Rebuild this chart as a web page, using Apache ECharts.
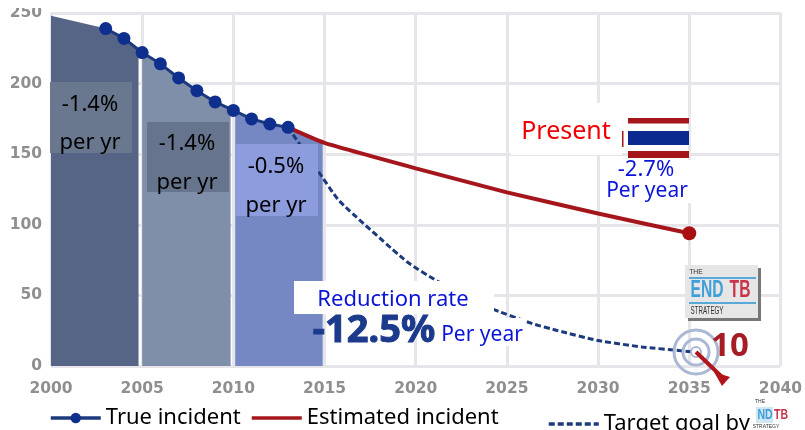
<!DOCTYPE html>
<html><head><meta charset="utf-8">
<style>html,body{margin:0;padding:0;background:#fff;overflow:hidden}#c{width:805px;height:430px}</style>
<script src="https://cdn.jsdelivr.net/npm/echarts@6/dist/echarts.min.js"></script>
</head><body><div id="c"></div>
<script>
const xTicks = {min:2000,max:2040,step:5};
const yTicks = {min:0,max:250,step:50};
const bandA = [[2000,248],[2003,239],[2004,232],[2004.8,224]];
const bandB = [[2005,222],[2006,214],[2007,204],[2008,195],[2009,187],[2009.85,182]];
const bandC = [[2010.1,180.5],[2011,175],[2012,171.4],[2013,169],[2014.9,158]];
const trueIncident = [[2003,239],[2004,232],[2005,222],[2006,214],[2007,204],[2008,195],[2009,187],[2010,181],[2011,175],[2012,171.4],[2013,169]];
const estimated = [[2013,169],[2015,158],[2020,140],[2025,123],[2030,108],[2035,94]];
const estimatedEnd = [[2035,94]];
const target = [[2013,169],[2014.6,139],[2015.8,117],[2019.5,74],[2021.2,60],[2024.1,41],[2026.4,30],[2027.8,25],[2030,18],[2032.4,13.5],[2034.7,10.6],[2035.2,10]];

const blue='#0a14d8', font='"Noto Sans"';
const rect=(x,y,w,h,fill,z)=>({type:'rect',z:z||100,shape:{x,y,width:w,height:h},style:{fill}});
const txt=(text,x,y,size,fill,extra,scaleX)=>({type:'text',z:120,x,y,scaleX:scaleX||1,style:Object.assign({text,fill,font:`${size}px ${font}`,textAlign:'center',textVerticalAlign:'middle'},extra||{})});
const ring=(r,w)=>({type:'circle',z:105,shape:{cx:696,cy:352,r},style:{fill:'none',stroke:'#aab8d6',lineWidth:w}});
const graphics=[
 rect(0,0,805,8,'#fff'),
 rect(50,82,82,71,'#69788f'), txt('-1.4%',90,105,22,'#000'), txt('per yr',90,143,22,'#000'),
 rect(147,122,82,70,'#66758d'), txt('-1.4%',187,144,22,'#000'), txt('per yr',187,183,22,'#000'),
 rect(235,144,83,72,'#8c9cdd'), txt('-0.5%',276,167,22,'#000'), txt('per yr',276,206,22,'#000'),
 rect(511,103,111,52,'#fff'), txt('Present',566,132,25,'#f00000'),
 rect(622,131,1.5,16,'#a5161c'),
 rect(628,118,61,5.5,'#a5161c'), rect(628,131,61,14,'#0b2a8f'), rect(628,151,61,7,'#a5161c'),
 rect(600,160,95,43,'#fff'), txt('-2.7%',646,170,22,blue), txt('Per year',647,191,21,blue),
 rect(294,281,200,33,'#fff'), txt('Reduction rate',393,300,22,blue),
 txt('-12.5%',374,331,38,'#1c3a8c',{font:`bold 38px ${font}`,stroke:'#1c3a8c',lineWidth:1}),
 rect(437,318,88,28,'#fff'), txt('Per year',482,335,21,blue),
 ring(22,3), ring(13,3), ring(5,2),
 {type:'line',z:110,shape:{x1:696,y1:352,x2:722,y2:377},style:{stroke:'#b0141c',lineWidth:4}},
 {type:'polygon',z:110,shape:{points:[[714,372],[730,377],[722,386]]},style:{fill:'#b0141c'}},
 txt('10',730,347,33,'#a51c24',{font:`bold 33px ${font}`}),
 rect(688,268,73,53,'#777'), rect(685,265,73,53,'#e6e6e6',101),
 rect(689,277,67,2,'#58a8d8',102), rect(689,302,67,2,'#58a8d8',102),
 txt('THE',696,272,8,'#333',{font:`8px "Liberation Sans"`},.85),
 txt('END',707,291,23,'#3f9fd8',{font:`bold 23px "Liberation Sans"`},.68),
 txt('TB',740,291,23,'#c8334a',{font:`bold 23px "Liberation Sans"`},.68),
 txt('STRATEGY',707,311,10,'#333',{font:`10px "Liberation Sans"`},.62),
 rect(756,407,17,16,'#cfe6f3'),
 txt('THE',760,402,5,'#333',{font:`5px "Liberation Sans"`}),
 txt('ND',765,415,14,'#3f9fd8',{font:`bold 14px "Liberation Sans"`},.75),
 txt('TB',781,415,14,'#c8334a',{font:`bold 14px "Liberation Sans"`},.75),
 txt('STRATEGY',766,427,5,'#333',{font:`5px "Liberation Sans"`})
];
const bandSeries=(name,data,color)=>({name,type:'line',data,symbol:'none',silent:true,z:1,lineStyle:{width:0},areaStyle:{color,opacity:1}});
const legendText={color:'#000',fontFamily:font,fontSize:22};
const legendBase=(name,left,top,hideDot)=>({data:[hideDot?{name,itemStyle:{opacity:0,color:'transparent',borderWidth:0}}:name],left,top,itemWidth:50,itemHeight:13,itemGap:0,padding:0,textStyle:legendText,selectedMode:false,lineStyle:{width:3.5}});
const chart=echarts.init(document.getElementById('c'),null,{renderer:'canvas'});
chart.setOption({
 animation:false,backgroundColor:'#fff',
 grid:{left:51,right:17,top:13,bottom:64},
 legend:[legendBase('True incident',49,407),legendBase('Estimated incident',250,407,true),legendBase('Target goal by',547,413,true)],
 xAxis:{type:'value',min:xTicks.min,max:xTicks.max,interval:xTicks.step,
  axisLine:{show:false},axisTick:{show:false},
  axisLabel:{color:'#8f8f8f',fontFamily:'DejaVu Sans',fontWeight:'bold',fontSize:15.5,margin:15,showMaxLabel:true,hideOverlap:false,formatter:v=>String(v)},
  splitLine:{show:true,lineStyle:{color:'#e5e5ea',width:3}}},
 yAxis:{type:'value',min:yTicks.min,max:yTicks.max,interval:yTicks.step,
  axisLine:{show:false},axisTick:{show:false},
  axisLabel:{color:'#8f8f8f',fontFamily:'DejaVu Sans',fontWeight:'bold',fontSize:15.5,margin:9},
  splitLine:{show:true,lineStyle:{color:'#e5e5ea',width:3}}},
 series:[
  bandSeries('band2000',bandA,'#566585'),
  bandSeries('band2005',bandB,'#7f8fa9'),
  bandSeries('band2010',bandC,'#7688c3'),
  {name:'Target goal by',type:'line',data:target,smooth:0.15,symbol:'none',z:3,lineStyle:{color:'#1c3a7c',width:3,type:[6,3]},itemStyle:{color:'#1c3a7c'}},
  {name:'Estimated incident',type:'line',data:estimated,smooth:0.15,symbol:'none',z:4,lineStyle:{color:'#a5161c',width:4},itemStyle:{color:'#a5161c'}},
  {name:'EstimatedEnd',type:'scatter',data:estimatedEnd,symbol:'circle',symbolSize:14,z:5,itemStyle:{color:'#aa0f0f',opacity:1}},
  {name:'True incident',type:'line',data:trueIncident,symbol:'circle',symbolSize:13,z:6,lineStyle:{color:'#1d3a7c',width:3},itemStyle:{color:'#0f2f8f'}}
 ],
 graphic:{elements:graphics}
});
</script></body></html>
